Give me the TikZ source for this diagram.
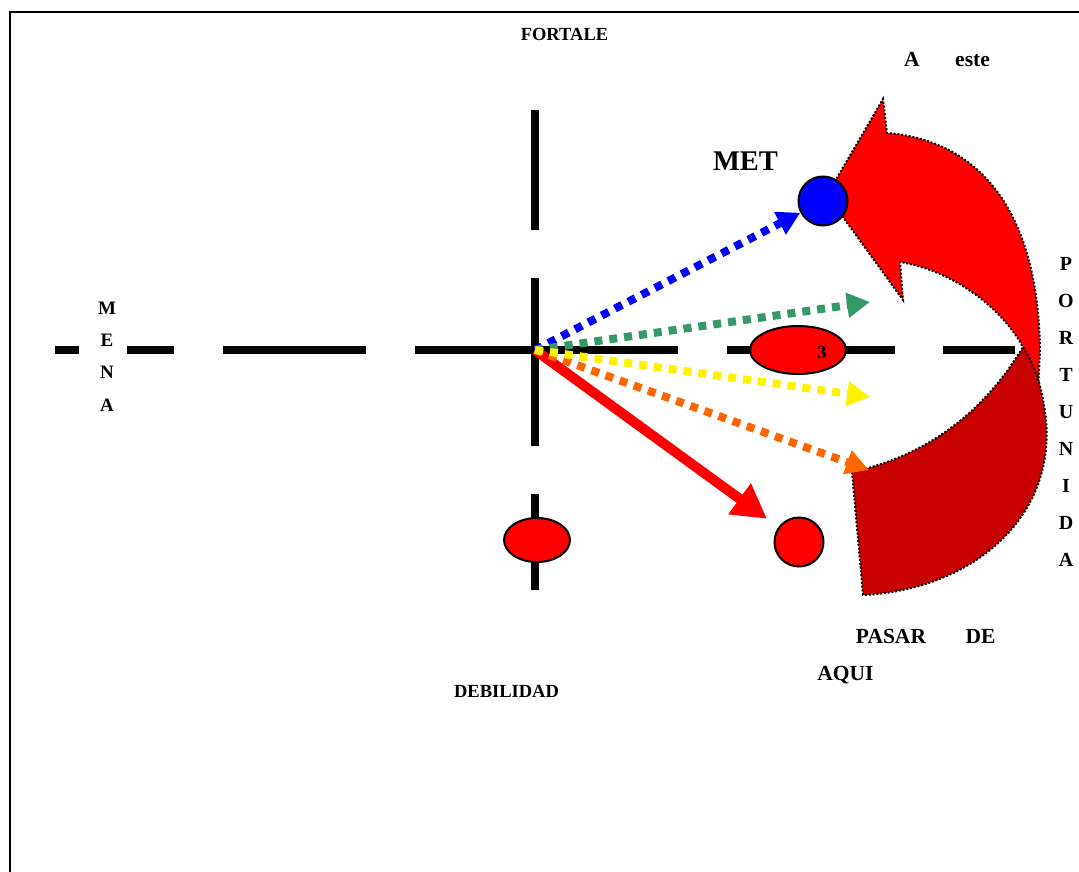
\documentclass[tikz,border=0pt]{standalone}
\usepackage{fontspec}
\setmainfont{Liberation Serif}
\usetikzlibrary{arrows.meta,shapes.geometric}
\definecolor{darkred}{RGB}{200,0,0}
\definecolor{seagreen}{RGB}{51,153,102}
\definecolor{deeporange}{RGB}{255,102,0}
\tikzset{
  axis/.style={line width=7.5pt},
  dots/.style={line width=8pt, dash pattern=on 8pt off 7pt,
    -{Triangle[length=23pt,width=24pt]}},
  band/.style={draw=black, line width=2pt, dash pattern=on 2pt off 1.8pt},
  spot/.style={draw=black, line width=2pt, fill=red, inner sep=0pt},
  word/.style={font=\fontsize{18.5}{20}\selectfont\bfseries, inner sep=0pt, anchor=base},
  bigword/.style={font=\fontsize{21.5}{24}\selectfont\bfseries, inner sep=0pt, anchor=base}
}

\begin{document}
\begin{tikzpicture}[x=1pt,y=-1pt]
  \useasboundingbox (0,0) rectangle (1079,872);
  \draw[line width=2pt] (9.5,872) -- (9.5,12.5) -- (1079,12.5);

  % axes
  \draw[axis] (55,350) -- (79,350);
  \draw[axis] (127,350) -- (174,350);
  \draw[axis] (223,350) -- (366,350);
  \draw[axis] (415,350) -- (678,350);
  \draw[axis] (727,350) -- (895,350);
  \draw[axis] (943,350) -- (1015,350);
  \draw[axis] (535,110) -- (535,230);
  \draw[axis] (535,278) -- (535,446);
  \draw[axis] (535,494) -- (535,590);

  % curved arrow
  \filldraw[band, fill=red] (827,195) -- (883,99) -- (887,133)
    .. controls (975,140) and (1038,205) .. (1040,350) -- (1038,392) -- (1023,347)
    .. controls (1000,305) and (950,270) .. (900,262) -- (903,300) -- cycle;
  \filldraw[band, fill=darkred] (852,472) -- (863,595)
    .. controls (970,590) and (1055,520) .. (1046,420)
    .. controls (1043,390) and (1035,365) .. (1023,347)
    .. controls (985,410) and (930,455) .. (852,472) -- cycle;

  % spots
  \coordinate (o) at (535,350);
  \node[spot, circle, fill=blue, minimum size=49pt] (met) at (823,201) {};
  \node[spot, ellipse, minimum width=96pt, minimum height=48pt] (three) at (798,350) {};
  \node[word] (num) at (822,358) {3};
  \node[spot, ellipse, minimum width=66pt, minimum height=44pt] (weak) at (537,540) {};
  \node[spot, circle, minimum size=49pt] (dot) at (799,542) {};
  \coordinate (g) at (870,302);
  \coordinate (y) at (870,397);
  \coordinate (r) at (869,470);

  % arrows
  \draw[red, line width=10pt, -{Triangle[length=34pt,width=36pt]}, shorten >=14pt] (o) -- (dot);
  \draw[dots, blue] (o) -- (met);
  \draw[dots, seagreen] (o) -- (g);
  \draw[dots, deeporange] (o) -- (r);
  \draw[dots, yellow] (o) -- (y);

  % labels
  \node[word] (fortale) at (564.5,41) {FORTALE};
  \node[bigword] (a) at (912,67) {A};
  \node[bigword] (este) at (972.5,67) {este};
  \node[font=\fontsize{28.5}{30}\selectfont\bfseries, inner sep=0pt, anchor=base] (metword) at (745.5,171) {MET};
  \node[font=\fontsize{19}{32.3}\selectfont\bfseries, inner sep=0pt, align=center] (mena) at (107,356.5) {M\\E\\N\\A};
  \node[font=\fontsize{20}{37}\selectfont\bfseries, inner sep=0pt, align=center] (oport) at (1066,412) {P\\O\\R\\T\\U\\N\\I\\D\\A};
  \node[bigword] (pasar) at (891,643) {PASAR};
  \node[bigword] (de) at (980.5,643) {DE};
  \node[bigword] (aqui) at (845.5,680) {AQUI};
  \node[word] (debil) at (506.5,697) {DEBILIDAD};
\end{tikzpicture}
\end{document}
